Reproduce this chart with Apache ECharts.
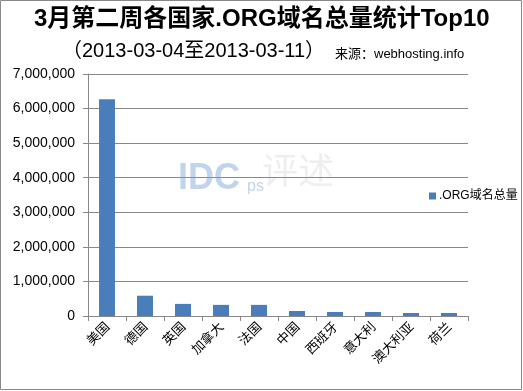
<!DOCTYPE html>
<html>
<head>
<meta charset="utf-8">
<script src="https://cdn.jsdelivr.net/npm/echarts@6/dist/echarts.min.js"></script>
<style>html,body{margin:0;padding:0;background:#fff;}#c{width:523px;height:391px;}</style>
</head>
<body>
<div id="c"></div>
<script>
const categories = ['美国','德国','英国','加拿大','法国','中国','西班牙','意大利','澳大利亚','荷兰'];
const orgTotals = [6270000, 587000, 350000, 322000, 322000, 145000, 115000, 115000, 87000, 87000];
const seriesName = '.ORG域名总量';
const yTicks = [0, 1000000, 2000000, 3000000, 4000000, 5000000, 6000000, 7000000];

const FONT_MIX = '"Liberation Sans", Arial, "Noto Sans CJK SC", sans-serif';
const chart = echarts.init(document.getElementById('c'), null, {renderer: 'canvas'});
chart.setOption({
  animation: false,
  backgroundColor: '#fff',
  graphic: [
    {type: 'rect', shape: {x: 0.5, y: 0.5, width: 521, height: 389}, style: {fill: 'none', stroke: '#888', lineWidth: 1}, z: 10},
    {type: 'text', x: 34, y: 7, style: {text: '3月第二周各国家.ORG域名总量统计Top10', font: 'bold 24px ' + FONT_MIX, fill: '#000'}, z: 10},
    {type: 'text', x: 62, y: 41, style: {text: '（2013-03-04至2013-03-11）', font: '20px ' + FONT_MIX, fill: '#000'}, z: 10},
    {type: 'text', x: 335, y: 48, style: {text: '来源：webhosting.info', font: '13px ' + FONT_MIX, fill: '#000'}, z: 10},
    {type: 'text', x: 178, y: 161, style: {text: 'IDC', font: 'bold 36px Arial, sans-serif', fill: 'rgba(120,160,210,0.45)'}, z: 1},
    {type: 'text', x: 247, y: 179, style: {text: 'ps', font: '16px Arial, sans-serif', fill: 'rgba(120,160,210,0.45)'}, z: 1},
    {type: 'text', x: 262, y: 152, style: {text: '评述', font: '36px "Noto Sans CJK SC", serif', fill: 'rgba(150,150,150,0.16)'}, z: 1}
  ],
  legend: {
    show: true,
    left: 424,
    top: 185,
    itemWidth: 7,
    itemHeight: 7,
    itemGap: 0,
    icon: 'rect',
    textStyle: {fontSize: 12, color: '#000', fontFamily: FONT_MIX, padding: [0, 0, 0, -2]},
    data: [seriesName]
  },
  grid: {left: 88, right: 55, top: 74, bottom: 75, containLabel: false},
  xAxis: {
    type: 'category',
    data: categories,
    axisLine: {lineStyle: {color: '#888', width: 1}},
    axisTick: {show: true, alignWithLabel: false, length: 5, lineStyle: {color: '#888'}},
    axisLabel: {rotate: 45, fontSize: 13, color: '#000', margin: 8, fontFamily: '"Noto Sans CJK SC", sans-serif', interval: 0}
  },
  yAxis: {
    type: 'value',
    min: 0,
    max: 7000000,
    interval: 1000000,
    axisLine: {show: true, lineStyle: {color: '#888', width: 1}},
    axisTick: {show: true, length: 5, lineStyle: {color: '#888'}},
    splitLine: {show: true, lineStyle: {color: '#888', width: 1}},
    axisLabel: {
      fontSize: 14, color: '#000', margin: 13, fontFamily: '"Liberation Sans", Arial, sans-serif',
      formatter: v => yTicks.includes(v) ? v.toLocaleString('en-US') : ''
    }
  },
  series: [{
    name: seriesName,
    type: 'bar',
    data: orgTotals,
    barWidth: '42%',
    itemStyle: {color: '#4a7ebb'}
  }]
});
</script>
</body>
</html>
